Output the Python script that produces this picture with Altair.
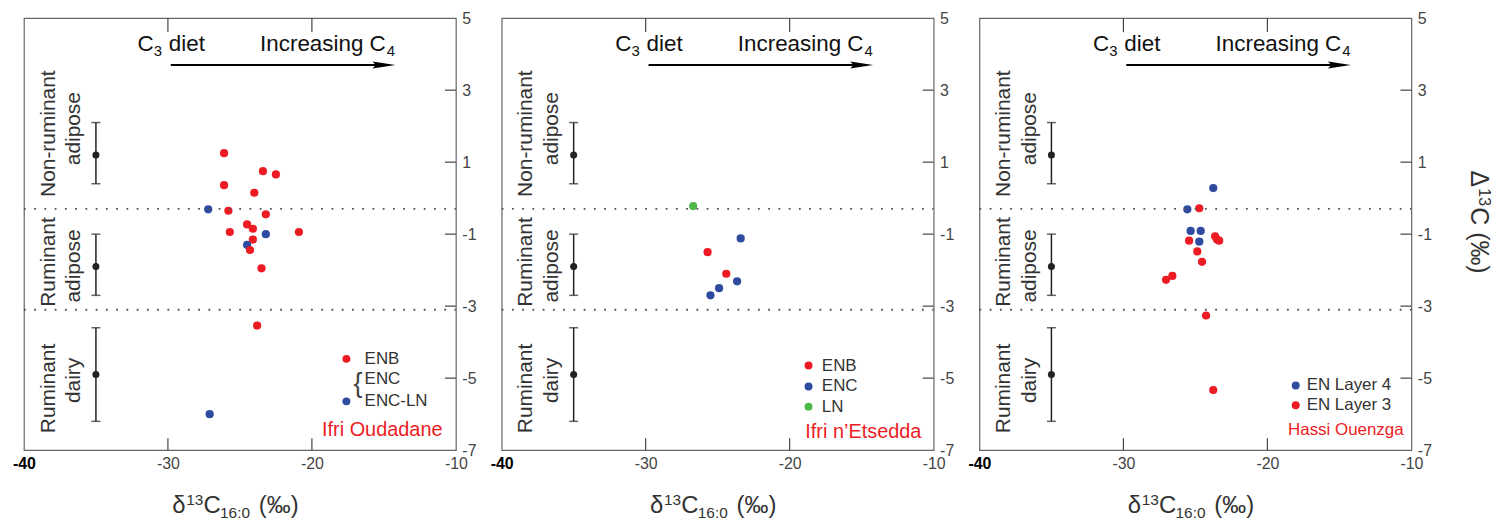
import altair as alt
import pandas as pd

# ---------------- data ----------------
oud_x = [-26.1, -23.4, -22.5, -26.1, -24.0, -27.2, -25.8, -23.2, -24.5, -24.1,
         -25.7, -23.2, -20.9, -24.1, -24.5, -24.3, -23.5, -23.8, -27.1]
oud_y = [1.25, 0.75, 0.66, 0.36, 0.15, -0.31, -0.35, -0.45, -0.73, -0.85,
         -0.94, -1.0, -0.94, -1.15, -1.3, -1.44, -1.95, -3.54, -6.0]
oud_g = ["ENB", "ENB", "ENB", "ENB", "ENB", "ENC", "ENB", "ENB", "ENB", "ENB",
         "ENB", "ENC", "ENB", "ENB", "ENC", "ENB", "ENB", "ENB", "ENC"]

ets_x = [-26.7, -23.4, -25.7, -24.4, -23.65, -24.9, -25.5]
ets_y = [-0.22, -1.12, -1.5, -2.1, -2.31, -2.5, -2.7]
ets_g = ["LN", "ENC", "ENB", "ENB", "ENC", "ENC", "ENC"]

has_x = [-23.76, -25.56, -24.73, -25.33, -24.63, -25.44, -24.73, -23.63, -23.5,
         -23.35, -24.87, -24.54, -26.6, -27.04, -24.26, -23.76]
has_y = [0.28, -0.31, -0.28, -0.91, -0.91, -1.18, -1.21, -1.06, -1.15,
         -1.18, -1.48, -1.77, -2.16, -2.27, -3.26, -5.33]
has_g = ["L4", "L4", "L3", "L4", "L4", "L3", "L4", "L3", "L3",
         "L3", "L3", "L3", "L3", "L3", "L3", "L3"]

ref_x = [-35, -35, -35]
ref_mean = [1.2, -1.9, -4.9]
ref_lo = [0.4, -2.7, -6.2]
ref_hi = [2.1, -1.0, -3.6]

boundary_y = [-0.3, -3.1]
x_tick_values = [-40, -30, -20, -10]
y_tick_values = [5, 3, 1, -1, -3, -5, -7]
inner_x_ticks = [-30, -20]
inner_y_ticks = [3, 1, -1, -3, -5]
arrow_start, arrow_end, arrow_head, arrow_level = -29.8, -15.4, -15.0, 3.7

RED = "#ED1C24"
BLUE = "#2E4B9F"
GREEN = "#4CB848"
TXT = "#333333"
FONT = "Liberation Sans"
COLORS = {"ENB": RED, "ENC": BLUE, "LN": GREEN, "L3": RED, "L4": BLUE}

W, H = 434, 434
xs = alt.Scale(domain=[-40, -10], nice=False, zero=False)
ys = alt.Scale(domain=[-7, 5], nice=False, zero=False)
ONE = pd.DataFrame({"a": [0]})


def T(s, x, y, size, color=TXT, align="left", baseline="alphabetic", angle=0, weight="normal"):
    kw = dict(text=s, fontSize=size, color=color, align=align, baseline=baseline,
              font=FONT, fontWeight=weight)
    if angle:
        kw["angle"] = angle
    return alt.Chart(ONE).mark_text(**kw).encode(x=alt.value(x), y=alt.value(y))


def dot(x, y, color, size=64):
    return alt.Chart(ONE).mark_circle(size=size, color=color, opacity=1).encode(
        x=alt.value(x), y=alt.value(y))


def XQ(field):
    return alt.X(f"{field}:Q", scale=xs)


def YQ(field):
    return alt.Y(f"{field}:Q", scale=ys)


def panel(xv, yv, gv, legend_layers, right_title=False):
    df = pd.DataFrame({"x": xv, "y": yv, "g": gv})
    df["c"] = df["g"].map(COLORS)

    xaxis = alt.Axis(values=x_tick_values, title=None, ticks=False, domain=False, grid=False,
                     labelFontSize=16, labelPadding=5, labelFlush=False,
                     labelColor={"expr": "datum.value == -40 ? '#000000' : '#444444'"},
                     labelFontWeight={"expr": "datum.value == -40 ? 'bold' : 'normal'"},
                     labelExpr="'' + datum.value")
    yaxis = alt.Axis(orient="right", values=y_tick_values, title=None, ticks=False,
                     domain=False, grid=False, labelFontSize=16, labelPadding=6,
                     labelColor="#444444", labelExpr="'' + datum.value")

    pts = alt.Chart(df).mark_circle(size=68, opacity=1).encode(
        x=alt.X("x:Q", scale=xs, axis=xaxis),
        y=alt.Y("y:Q", scale=ys, axis=yaxis),
        color=alt.Color("c:N", scale=None),
    )

    eb = pd.DataFrame({"x": ref_x, "m": ref_mean, "lo": ref_lo, "hi": ref_hi})
    ebase = alt.Chart(eb)
    err_rule = ebase.mark_rule(color="#222222", strokeWidth=1.5).encode(
        x=XQ("x"), y=YQ("lo"), y2="hi:Q")
    cap_lo = ebase.mark_tick(orient="horizontal", size=9, thickness=1.5, color="#222222").encode(
        x=XQ("x"), y=YQ("lo"))
    cap_hi = ebase.mark_tick(orient="horizontal", size=9, thickness=1.5, color="#222222").encode(
        x=XQ("x"), y=YQ("hi"))
    mean = ebase.mark_circle(size=50, color="#222222", opacity=1).encode(
        x=XQ("x"), y=YQ("m"))

    dotted = alt.Chart(pd.DataFrame({"y": boundary_y})).mark_rule(
        color="#555555", strokeWidth=1.8, strokeDash=[1.8, 8.5]).encode(
        y=YQ("y"), x=alt.value(0), x2=alt.value(W))

    tick_r = alt.Chart(pd.DataFrame({"y": inner_y_ticks})).mark_rule(
        color="#444444", strokeWidth=1.2).encode(
        y=YQ("y"), x=alt.value(W - 11), x2=alt.value(W))
    tick_t = alt.Chart(pd.DataFrame({"x": inner_x_ticks})).mark_rule(
        color="#444444", strokeWidth=1.2).encode(
        x=XQ("x"), y=alt.value(0), y2=alt.value(14))
    tick_b = alt.Chart(pd.DataFrame({"x": inner_x_ticks})).mark_rule(
        color="#444444", strokeWidth=1.2).encode(
        x=XQ("x"), y=alt.value(H - 12), y2=alt.value(H))

    arrow_line = alt.Chart(pd.DataFrame({"x": [arrow_start], "x2": [arrow_end], "y": [arrow_level]})).mark_rule(
        color="#000000", strokeWidth=2).encode(x=XQ("x"), x2="x2:Q", y=YQ("y"))
    arrow_tip = alt.Chart(pd.DataFrame({"x": [arrow_head], "y": [arrow_level]})).mark_point(
        shape="M -1 -0.3 L 1 0 L -1 0.3 L -0.7 0 Z", size=529, filled=True,
        color="#000000", opacity=1, strokeWidth=0).encode(x=XQ("x"), y=YQ("y"))

    texts = [
        T("C", 114, 32.7, 22.5, color="#111111"),
        T("3", 130.5, 38.2, 15, color="#111111"),
        T("diet", 145.6, 32.7, 22.5, color="#111111"),
        T("Increasing C", 237.3, 32.7, 22.5, color="#111111"),
        T("4", 364.5, 38.2, 15, color="#111111"),
        T("Non-ruminant", 24.8, 116, 21, align="center", baseline="middle", angle=270),
        T("adipose", 50.8, 111, 21, align="center", baseline="middle", angle=270),
        T("Ruminant", 24.8, 245, 21, align="center", baseline="middle", angle=270),
        T("adipose", 50.8, 249, 21, align="center", baseline="middle", angle=270),
        T("Ruminant", 24.8, 372, 21, align="center", baseline="middle", angle=270),
        T("dairy", 50.8, 364, 21, align="center", baseline="middle", angle=270),
        T("δ", 149, 496.7, 24),
        T("13", 163, 489.5, 15.5),
        T("C", 180.3, 496.7, 24),
        T("16:0", 197, 502.5, 15.5),
        T("(‰)", 236, 496.7, 24),
    ]
    if right_title:
        texts += [
            T("Δ", 502, 153, 25, angle=90, baseline="middle"),
            T("13", 507, 171, 16, angle=90, baseline="middle"),
            T("C (‰)", 502, 190, 25, angle=90, baseline="middle"),
        ]

    layers = [pts, dotted, tick_r, tick_t, tick_b, err_rule, cap_lo, cap_hi, mean,
              arrow_line, arrow_tip] + texts + legend_layers
    return alt.layer(*layers).properties(width=W, height=H)


leg1 = [
    dot(324, 342.3, RED), dot(324, 385, BLUE),
    T("ENB", 342.3, 342.5, 17, baseline="middle"),
    T("ENC", 342.3, 363, 17, baseline="middle"),
    T("ENC-LN", 342.3, 385, 17, baseline="middle"),
    T("{", 335.6, 368, 27, align="center", baseline="middle", color="#444444"),
    T("Ifri Oudadane", 420.6, 413.3, 20, color=RED, align="right", baseline="middle"),
]
leg2 = [
    dot(308.3, 349, RED), dot(308.3, 370, BLUE), dot(308.3, 390.3, GREEN),
    T("ENB", 321.7, 349, 17, baseline="middle"),
    T("ENC", 321.7, 370, 17, baseline="middle"),
    T("LN", 321.7, 390.3, 17, baseline="middle"),
    T("Ifri n\u2019Etsedda", 421.7, 415.7, 20, color=RED, align="right", baseline="middle"),
]
leg3 = [
    dot(317.8, 369, BLUE), dot(317.8, 389, RED),
    T("EN Layer 4", 328.8, 369, 17, baseline="middle"),
    T("EN Layer 3", 328.8, 389, 17, baseline="middle"),
    T("Hassi Ouenzga", 426.2, 413.3, 17, color=RED, align="right", baseline="middle"),
]

p1 = panel(oud_x, oud_y, oud_g, leg1)
p2 = panel(ets_x, ets_y, ets_g, leg2)
p3 = panel(has_x, has_y, has_g, leg3, right_title=True)

chart = alt.hconcat(p1, p2, p3, spacing=46, bounds="flush").properties(
    padding={"left": 3, "top": 0, "right": 0, "bottom": 0}
).configure(font=FONT).configure_view(stroke="#666666", strokeWidth=1.2)

chart.save("out.html", embed_options={"renderer": "svg", "actions": False})
